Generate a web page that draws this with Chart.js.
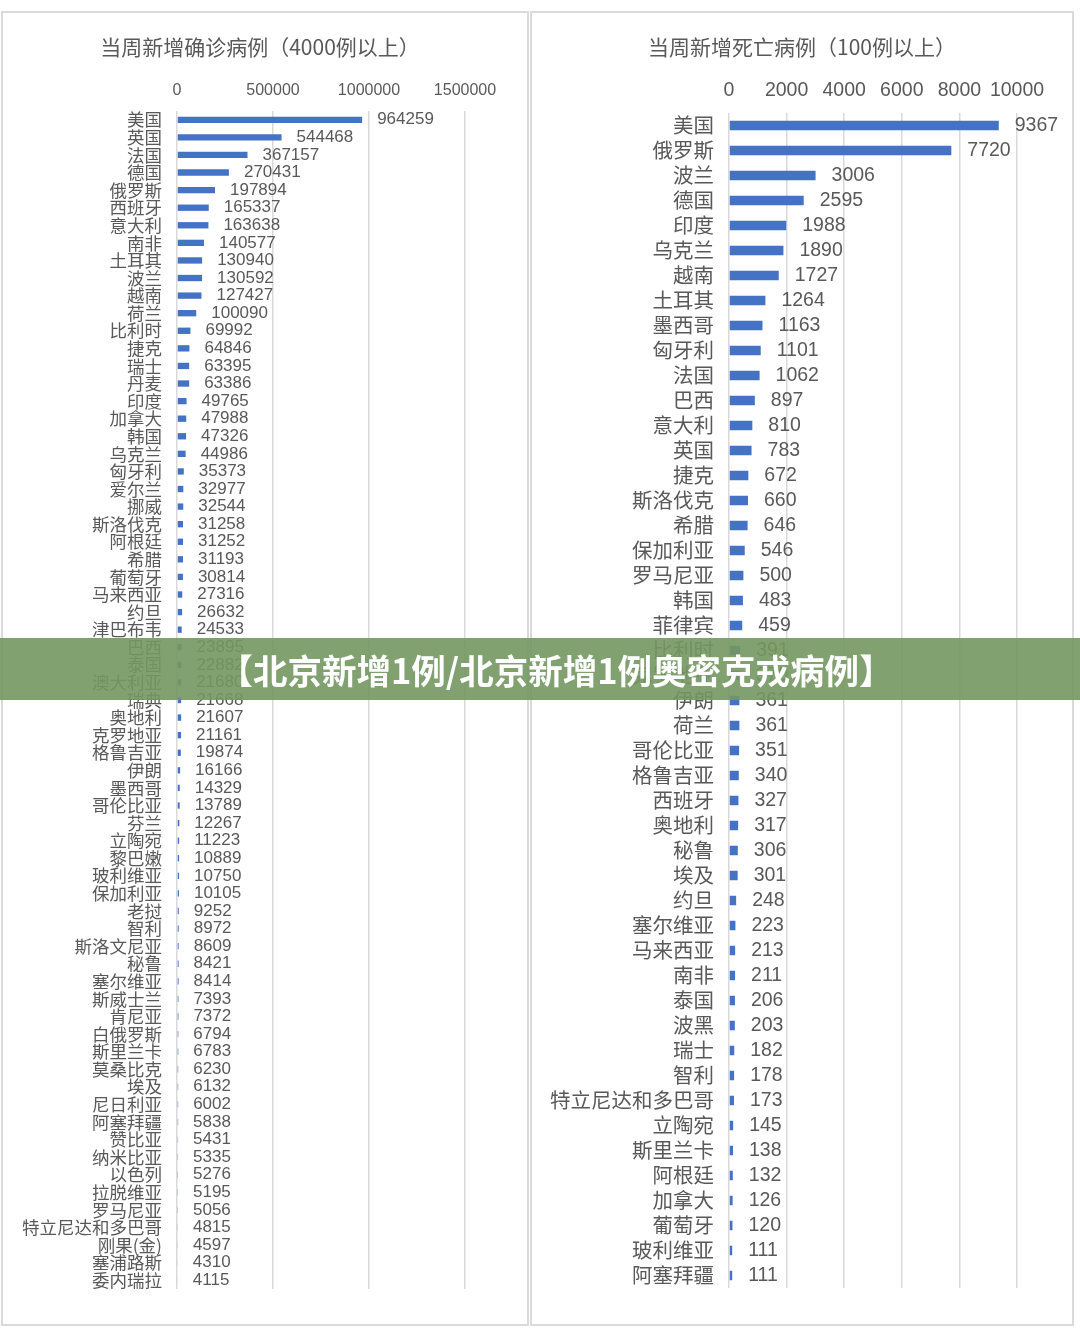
<!DOCTYPE html>
<html>
<head>
<meta charset="utf-8">
<script src="https://cdn.jsdelivr.net/npm/chart.js@4.4.1/dist/chart.umd.min.js"></script>
<style>
  html, body { margin: 0; padding: 0; background: #fff; }
  body { width: 1080px; height: 1338px; position: relative; overflow: hidden; font-family: "Noto Sans CJK SC", sans-serif; }
  .panel { position: absolute; box-sizing: border-box; border: 2px solid #dadada; background: #fff; }
  .panel canvas { position: absolute; left: 0; top: 0; }
  .title { position: absolute; top: 32px; color: #595959; font-size: 21px; line-height: 28px; text-align: center; white-space: nowrap; }
  .banner { position: absolute; left: 0; top: 638px; width: 1080px; height: 62px; box-sizing: border-box; padding-left: 32px;
            background: rgba(116, 151, 98, 0.9); color: #fff; font-weight: bold; font-size: 34.5px; line-height: 62px;
            text-align: center; white-space: nowrap; }
</style>
</head>
<body>
<div class="panel" style="left:1px;top:11px;width:528px;height:1315px;">
  <canvas id="casesChart" width="524" height="1311"></canvas>
</div>
<div class="panel" style="left:530px;top:11px;width:544px;height:1315px;">
  <canvas id="deathsChart" width="540" height="1311"></canvas>
</div>
<div class="title" style="left:2px;width:516px;">当周新增确诊病例（4000例以上）</div>
<div class="title" style="left:538px;width:528px;">当周新增死亡病例（100例以上）</div>
<div class="banner">【北京新增1例/北京新增1例奥密克戎病例】</div>

<script>
// 当周新增确诊病例（4000例以上）
const caseCountries = [
    '美国', '英国', '法国', '德国', '俄罗斯', '西班牙', '意大利', '南非', '土耳其', '波兰',
    '越南', '荷兰', '比利时', '捷克', '瑞士', '丹麦', '印度', '加拿大', '韩国', '乌克兰',
    '匈牙利', '爱尔兰', '挪威', '斯洛伐克', '阿根廷', '希腊', '葡萄牙', '马来西亚', '约旦', '津巴布韦',
    '巴西', '泰国', '澳大利亚', '瑞典', '奥地利', '克罗地亚', '格鲁吉亚', '伊朗', '墨西哥', '哥伦比亚',
    '芬兰', '立陶宛', '黎巴嫩', '玻利维亚', '保加利亚', '老挝', '智利', '斯洛文尼亚', '秘鲁', '塞尔维亚',
    '斯威士兰', '肯尼亚', '白俄罗斯', '斯里兰卡', '莫桑比克', '埃及', '尼日利亚', '阿塞拜疆', '赞比亚', '纳米比亚',
    '以色列', '拉脱维亚', '罗马尼亚', '特立尼达和多巴哥', '刚果(金)', '塞浦路斯', '委内瑞拉'
];
const caseValues = [
    964259, 544468, 367157, 270431, 197894, 165337, 163638, 140577, 130940, 130592,
    127427, 100090, 69992, 64846, 63395, 63386, 49765, 47988, 47326, 44986,
    35373, 32977, 32544, 31258, 31252, 31193, 30814, 27316, 26632, 24533,
    23895, 22882, 21680, 21668, 21607, 21161, 19874, 16166, 14329, 13789,
    12267, 11223, 10889, 10750, 10105, 9252, 8972, 8609, 8421, 8414,
    7393, 7372, 6794, 6783, 6230, 6132, 6002, 5838, 5431, 5335,
    5276, 5195, 5056, 4815, 4597, 4310, 4115
];
const caseTicks = [0, 500000, 1000000, 1500000];

// 当周新增死亡病例（100例以上）
const deathCountries = [
    '美国', '俄罗斯', '波兰', '德国', '印度', '乌克兰', '越南', '土耳其', '墨西哥', '匈牙利',
    '法国', '巴西', '意大利', '英国', '捷克', '斯洛伐克', '希腊', '保加利亚', '罗马尼亚', '韩国',
    '菲律宾', '比利时', '克罗地亚', '伊朗', '荷兰', '哥伦比亚', '格鲁吉亚', '西班牙', '奥地利', '秘鲁',
    '埃及', '约旦', '塞尔维亚', '马来西亚', '南非', '泰国', '波黑', '瑞士', '智利', '特立尼达和多巴哥',
    '立陶宛', '斯里兰卡', '阿根廷', '加拿大', '葡萄牙', '玻利维亚', '阿塞拜疆'
];
const deathValues = [
    9367, 7720, 3006, 2595, 1988, 1890, 1727, 1264, 1163, 1101,
    1062, 897, 810, 783, 672, 660, 646, 546, 500, 483,
    459, 391, 370, 361, 361, 351, 340, 327, 317, 306,
    301, 248, 223, 213, 211, 206, 203, 182, 178, 173,
    145, 138, 132, 126, 120, 111, 111
];
const deathTicks = [0, 2000, 4000, 6000, 8000, 10000];

const TEXT_GRAY = '#595959';
const BAR_BLUE = '#4472C4';

// draws the value to the right of every bar
const valueLabels = {
    id: 'valueLabels',
    afterDatasetsDraw(chart, args, opts) {
        const ctx = chart.ctx;
        const values = chart.data.datasets[0].data;
        ctx.save();
        ctx.font = opts.font;
        ctx.fillStyle = TEXT_GRAY;
        ctx.textAlign = 'left';
        ctx.textBaseline = 'middle';
        chart.getDatasetMeta(0).data.forEach((bar, i) => {
            ctx.fillText(String(values[i]), bar.x + opts.offset, bar.y);
        });
        ctx.restore();
    }
};

function drawBarChart(canvasId, labels, values, ticks, cfg) {
    const step = ticks[1] - ticks[0];
    return new Chart(document.getElementById(canvasId), {
        type: 'bar',
        data: {
            labels: labels,
            datasets: [{
                data: values,
                backgroundColor: BAR_BLUE,
                categoryPercentage: 1,
                barPercentage: cfg.barPct
            }]
        },
        options: {
            indexAxis: 'y',
            responsive: false,
            animation: false,
            layout: { padding: cfg.padding },
            plugins: {
                legend: { display: false },
                tooltip: { enabled: false },
                valueLabels: { font: cfg.valueFont, offset: cfg.valueOffset }
            },
            scales: {
                x: {
                    position: 'top',
                    min: ticks[0],
                    max: ticks[ticks.length - 1],
                    afterFit: s => { s.height = cfg.axisHeight; },
                    grid: { color: '#d9d9d9', lineWidth: 1.5, drawTicks: false },
                    border: { display: false },
                    ticks: {
                        stepSize: step,
                        autoSkip: false,
                        maxRotation: 0,
                        padding: cfg.tickPad,
                        color: TEXT_GRAY,
                        font: { family: 'Liberation Sans', size: cfg.tickSize },
                        callback: v => String(v)
                    }
                },
                y: {
                    afterFit: s => { s.width = cfg.axisWidth; },
                    grid: { display: false, drawTicks: false },
                    border: { display: false },
                    ticks: {
                        autoSkip: false,
                        padding: 15,
                        color: TEXT_GRAY,
                        font: { family: 'Noto Sans CJK SC', size: cfg.labelSize }
                    }
                }
            }
        },
        plugins: [valueLabels]
    });
}

drawBarChart('casesChart', caseCountries, caseValues, caseTicks, {
    padding: { top: 58, left: 0, right: 62, bottom: 35 },
    axisHeight: 40,
    axisWidth: 174,
    tickPad: 11,
    tickSize: 16,
    labelSize: 17.5,
    barPct: 0.36,
    valueFont: '17px "Liberation Sans"',
    valueOffset: 15
});

drawBarChart('deathsChart', deathCountries, deathValues, deathTicks, {
    padding: { top: 60, left: 0, right: 55, bottom: 36 },
    axisHeight: 40,
    axisWidth: 197,
    tickPad: 11,
    tickSize: 19.5,
    labelSize: 20.5,
    barPct: 0.38,
    valueFont: '19.5px "Liberation Sans"',
    valueOffset: 16
});
</script>
</body>
</html>
